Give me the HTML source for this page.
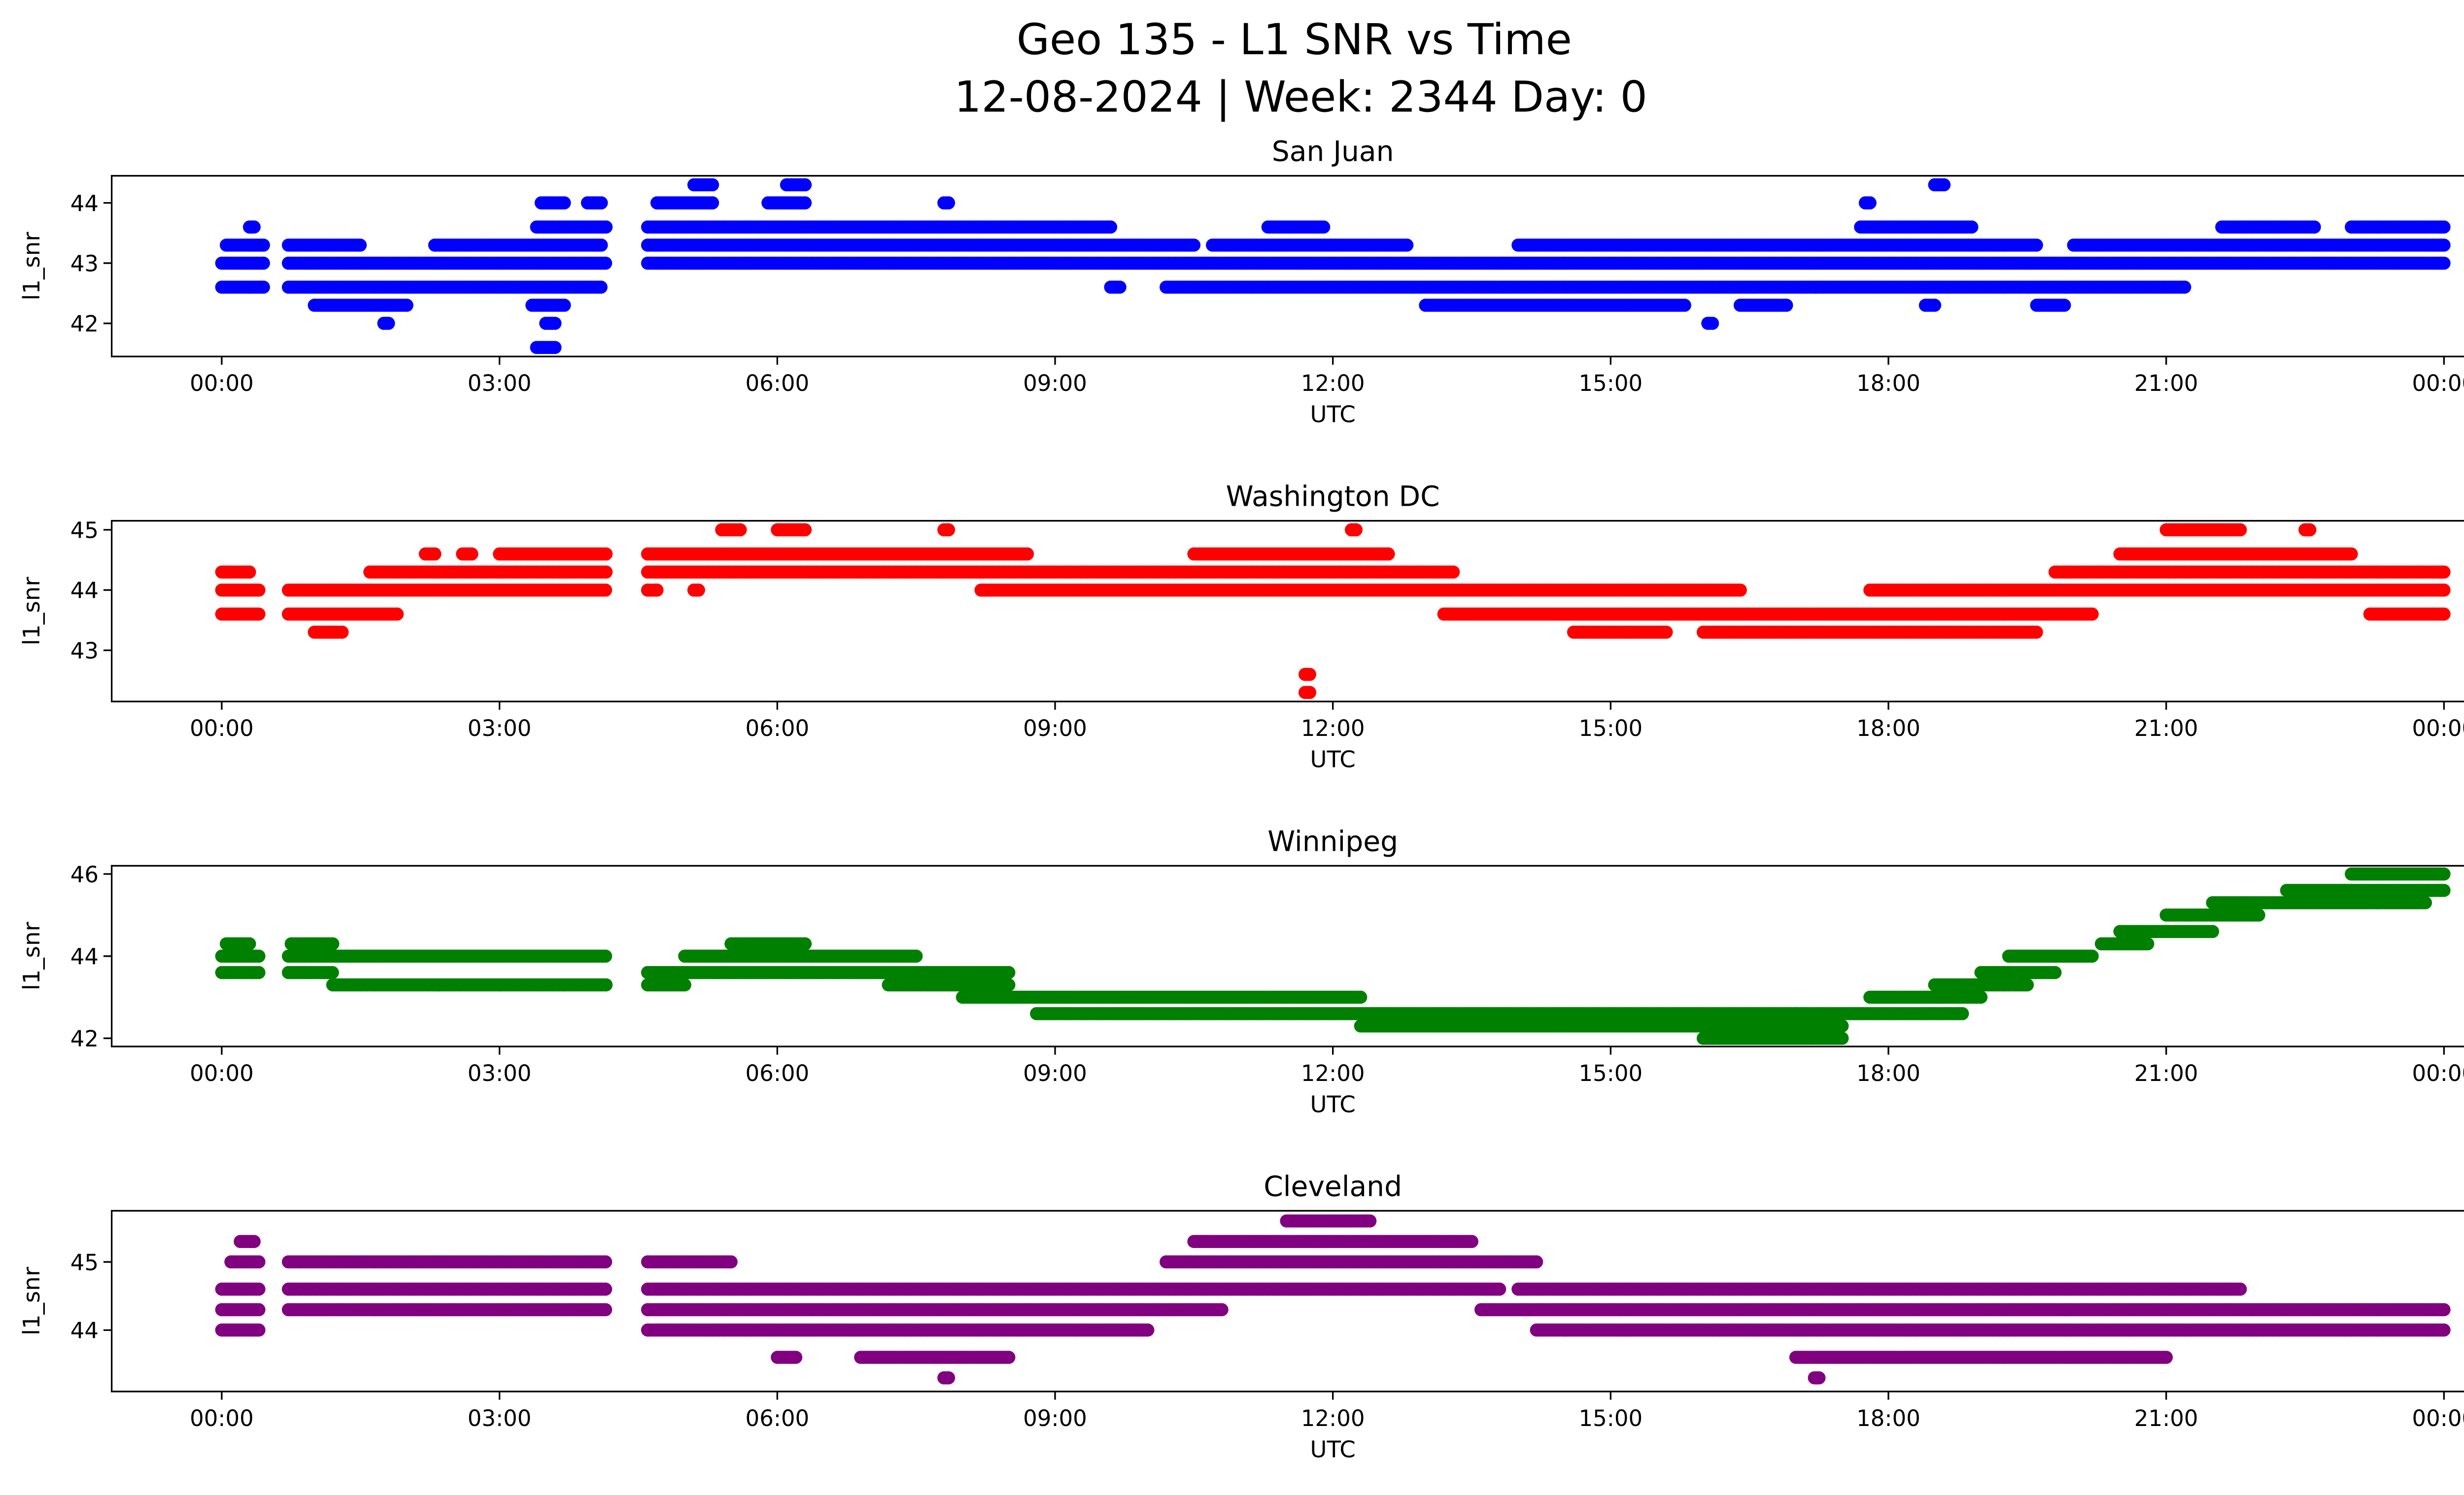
<!DOCTYPE html>
<html><head><meta charset="utf-8">
<style>
html,body{margin:0;padding:0;background:#fff;width:5226px;height:3033px;overflow:hidden;}
svg{display:block;position:absolute;left:0;top:0;width:5226px;height:3033px;font-family:"DejaVu Sans","Liberation Sans",sans-serif;}
</style></head>
<body>
<svg id="fig" width="5226" height="3033" viewBox="0 0 1568 910" preserveAspectRatio="none" xmlns="http://www.w3.org/2000/svg">
<rect x="0" y="0" width="1568" height="910" fill="#fff"/>
<text x="788" y="33" font-size="26" text-anchor="middle">Geo 135 - L1 SNR vs Time</text>
<text x="792" y="68" font-size="26" text-anchor="middle">12-08-2024 | Week: 2344 Day: 0</text>
</svg>
<script>
// Data: runs of [startHour, endHour, snrValue]
const stationNames = ["San Juan","Washington DC","Winnipeg","Cleveland"];
const sanJuanRuns = [[0,0.45,43.0],[0.72,4.15,43.0],[4.6,24,43.0],
 [0,0.45,42.6],[0.72,4.1,42.6],[10.2,21.2,42.6],[9.6,9.7,42.6],
 [0.05,0.45,43.3],[0.72,1.5,43.3],[2.3,4.1,43.3],[4.6,10.5,43.3],[10.7,12.8,43.3],[14.0,19.6,43.3],[20.0,24,43.3],
 [0.3,0.35,43.6],[3.4,4.15,43.6],[4.6,9.6,43.6],[11.3,11.9,43.6],[17.7,18.9,43.6],[21.6,22.6,43.6],[23.0,24,43.6],
 [1.0,2.0,42.3],[3.35,3.7,42.3],[13.0,15.8,42.3],[16.4,16.9,42.3],[18.4,18.5,42.3],[19.6,19.9,42.3],
 [3.45,3.7,44.0],[4.7,5.3,44.0],[5.9,6.3,44.0],[3.95,4.1,44.0],[7.8,7.85,44.0],[17.75,17.8,44.0],
 [5.1,5.3,44.3],[6.1,6.3,44.3],[18.5,18.6,44.3],
 [1.75,1.8,42.0],[3.5,3.6,42.0],[16.05,16.1,42.0],[3.4,3.6,41.6]];
const washingtonRuns = [[0,0.4,44.0],[0.72,4.15,44.0],[4.6,4.7,44.0],[5.1,5.15,44.0],[8.2,16.4,44.0],[17.8,24,44.0],
 [0,0.3,44.3],[1.6,4.15,44.3],[4.6,13.3,44.3],[19.8,24,44.3],
 [2.2,2.3,44.6],[2.6,2.7,44.6],[3.0,4.15,44.6],[4.6,8.7,44.6],[10.5,12.6,44.6],[20.5,23.0,44.6],
 [0,0.4,43.6],[0.72,1.9,43.6],[13.2,20.2,43.6],[23.2,24,43.6],
 [1.0,1.3,43.3],[14.6,15.6,43.3],[16.0,19.6,43.3],
 [5.4,5.6,45.0],[6.0,6.3,45.0],[7.8,7.85,45.0],[12.2,12.25,45.0],[21.0,21.8,45.0],[22.5,22.55,45.0],
 [11.7,11.75,42.6],[11.7,11.75,42.3]];
const winnipegRuns = [[0,0.4,44.0],[0.72,4.15,44.0],[5.0,7.5,44.0],[19.3,20.2,44.0],
 [0,0.4,43.6],[0.72,1.2,43.6],[4.6,8.5,43.6],[19.0,19.8,43.6],
 [1.2,4.15,43.3],[4.6,5.0,43.3],[7.2,8.5,43.3],[18.5,19.5,43.3],
 [0.05,0.3,44.3],[0.75,1.2,44.3],[5.5,6.3,44.3],[20.3,20.8,44.3],
 [8.0,12.3,43.0],[17.8,19.0,43.0],
 [8.8,17.0,42.6],[17.0,18.8,42.6],
 [12.3,17.5,42.3],[16.0,17.5,42.0],
 [20.5,21.5,44.6],[21.0,22.0,45.0],[21.5,23.8,45.3],[22.3,24,45.6],[23.0,24,46.0]];
const clevelandRuns = [[0,0.4,44.3],[0.72,4.15,44.3],[4.6,10.8,44.3],[13.6,24,44.3],
 [0,0.4,44.6],[0.72,4.15,44.6],[4.6,13.8,44.6],[14.0,21.8,44.6],
 [0.1,0.4,45.0],[0.72,4.15,45.0],[4.6,5.5,45.0],[10.2,14.2,45.0],
 [0,0.4,44.0],[4.6,10.0,44.0],[14.2,24,44.0],
 [0.2,0.35,45.3],[10.5,13.5,45.3],[11.5,12.4,45.6],
 [6.0,6.2,43.6],[6.9,8.5,43.6],[17.0,21.0,43.6],[7.8,7.85,43.3],[17.2,17.25,43.3]];
const allRuns = [sanJuanRuns, washingtonRuns, winnipegRuns, clevelandRuns];
const colors = ["#0000ff","#ff0000","#008000","#800080"];
const yTicks = [[42,43,44],[43,44,45],[42,44,46],[44,45]];
const yDomains = [[41.45,44.45],[42.15,45.15],[41.8,46.2],[43.1,45.75]];
const xTickLabels = ["00:00","03:00","06:00","09:00","12:00","15:00","18:00","21:00","00:00"];

const NS="http://www.w3.org/2000/svg";
const svg=document.getElementById('fig');
function mk(tag,attrs,parent){const e=document.createElementNS(NS,tag);for(const k in attrs)e.setAttribute(k,attrs[k]);(parent||svg).appendChild(e);return e;}
const axL=68, axR=1555, axH=110;
const axTops=[107,317,527,737];
const xs=h=>135+(1488-135)*h/24;

allRuns.forEach((runs,p)=>{
  const top=axTops[p], bot=top+axH;
  const [d0,d1]=yDomains[p];
  const ys=v=>bot-(v-d0)/(d1-d0)*axH;
  const g=mk('g',{});
  
  
  const t=mk('text',{x:(axL+axR)/2,y:top-9,'font-size':17,'text-anchor':'middle'},g);
  t.textContent=stationNames[p];
  
  
  const pts=mk('g',{fill:colors[p]},g);
  
  
  runs.forEach(r=>{
    const step=0.025;
    for(let h=r[0];h<=r[1]+1e-9;h+=step){
      mk('circle',{cx:xs(h).toFixed(1),cy:ys(r[2]).toFixed(1),r:4},pts);
    }
  });
  const frame=mk('rect',{x:axL,y:top,width:axR-axL,height:axH,fill:'none',stroke:'#000','stroke-width':1},g);
  
  
  xTickLabels.forEach((lab,i)=>{
    const x=xs(i*3);
    mk('line',{x1:x,x2:x,y1:bot,y2:bot+5,stroke:'#000'},g);
    const tl=mk('text',{x:x,y:bot+21,'font-size':13.5,'text-anchor':'middle'},g);
    tl.textContent=lab;
    
    
  });
  yTicks[p].forEach(v=>{
    const y=ys(v);
    mk('line',{x1:axL-5,x2:axL,y1:y,y2:y,stroke:'#000'},g);
    const tl=mk('text',{x:axL-8,y:y+5,'font-size':13.5,'text-anchor':'end'},g);
    tl.textContent=v;
    
    
  });
  const xl=mk('text',{x:(axL+axR)/2,y:bot+40,'font-size':14,'text-anchor':'middle'},g);
  xl.textContent='UTC';
  
  
  const yl=mk('text',{x:0,y:0,'font-size':14,'text-anchor':'middle',transform:`translate(24,${top+axH/2}) rotate(-90)`},g);
  yl.textContent='l1_snr';
  
  
});
</script>
</body></html>
